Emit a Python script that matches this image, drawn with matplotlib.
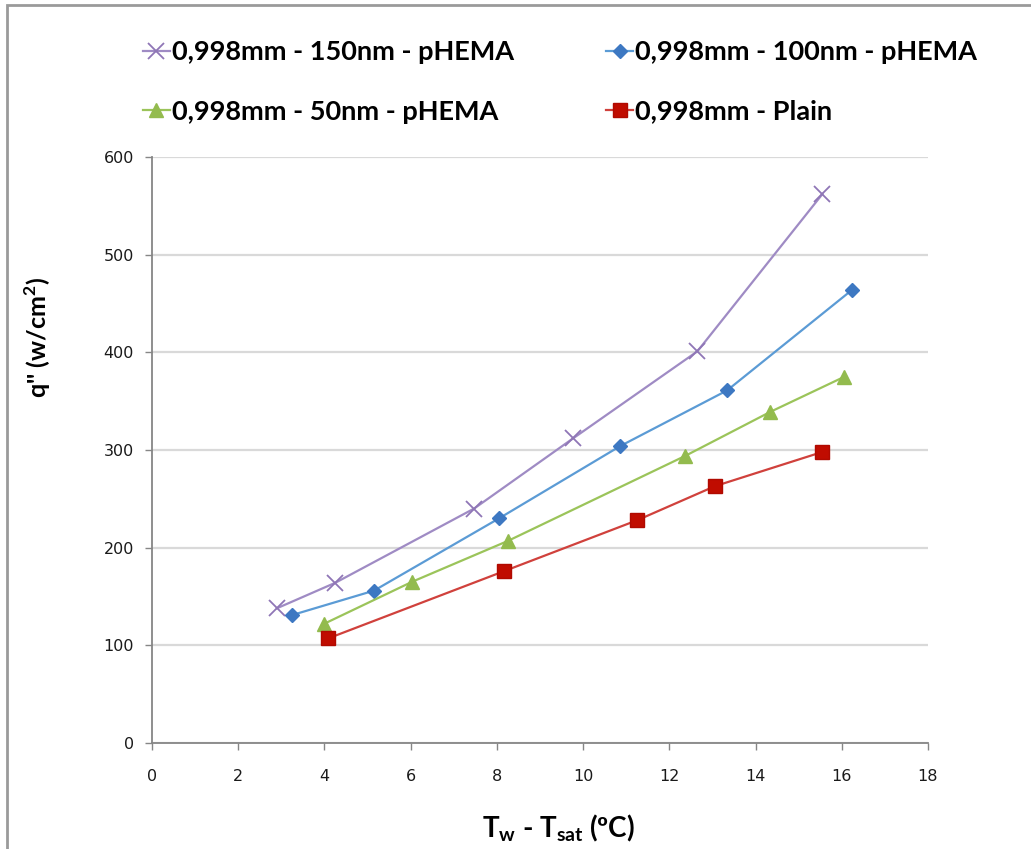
import matplotlib
matplotlib.use("Agg")
import matplotlib.pyplot as plt
from matplotlib.patches import Rectangle

# Wall superheat (degC) and heat flux (W/cm^2) for each surface
x_150 = [2.90, 4.25, 7.47, 9.77, 12.65, 15.55]
q_150 = [138, 164, 240, 312, 401, 562]

x_100 = [3.25, 5.15, 8.05, 10.86, 13.34, 16.24]
q_100 = [131, 156, 230, 304, 361, 464]

x_50 = [3.99, 6.03, 8.26, 12.37, 14.34, 16.06]
q_50 = [122, 165, 207, 294, 339, 375]

x_plain = [4.08, 8.17, 11.25, 13.06, 15.55]
q_plain = [107, 176, 228, 263, 298]

labels = ["0,998mm - 150nm - pHEMA", "0,998mm - 100nm - pHEMA",
          "0,998mm - 50nm - pHEMA", "0,998mm - Plain"]

x_ticks = list(range(0, 19, 2))
y_ticks = list(range(0, 601, 100))

plt.rcParams["mathtext.fontset"] = "custom"
plt.rcParams["mathtext.rm"] = "Lato:bold"
plt.rcParams["mathtext.bf"] = "Lato:bold"

W, H = 1031, 849
fig = plt.figure(figsize=(W / 100, H / 100), dpi=100)
fig.patch.set_facecolor("white")

# chart frame
fig.add_artist(Rectangle((7 / W, -0.05), 1.2, 1 - 5 / H + 0.05,
                         transform=fig.transFigure, fill=False,
                         edgecolor="#9a9a9a", linewidth=2.0))

ax = fig.add_axes([152 / W, 1 - 743 / H, (928 - 152) / W, (743 - 157) / H])
ax.set_xlim(0, 18)
ax.set_ylim(0, 600)
ax.set_xticks(x_ticks)
ax.set_yticks(y_ticks)
ax.grid(axis="y", color="#d9d9d9", linewidth=1.6)
ax.set_axisbelow(True)
for s in ("top", "right"):
    ax.spines[s].set_visible(False)
for s in ("left", "bottom"):
    ax.spines[s].set_color("#868686")
    ax.spines[s].set_linewidth(1.3)
ax.tick_params(axis="both", colors="#868686", length=5, width=1.0,
               labelcolor="#1a1a1a", labelsize=11.5)
ax.tick_params(axis="x", pad=14)
ax.tick_params(axis="y", pad=8)
for lbl in ax.get_xticklabels() + ax.get_yticklabels():
    lbl.set_fontfamily("DejaVu Sans")

h150, = ax.plot(x_150, q_150, color="#9f8bc4", linewidth=1.6, marker="x",
                markersize=11, markeredgewidth=1.3, markeredgecolor="#8f76b6")
h100, = ax.plot(x_100, q_100, color="#5b9bd5", linewidth=1.6, marker="D",
                markersize=7.5, markerfacecolor="#3d78c2", markeredgecolor="#3d78c2")
h50, = ax.plot(x_50, q_50, color="#9bc45a", linewidth=1.6, marker="^",
               markersize=10, markerfacecolor="#93bb4e", markeredgecolor="#93bb4e")
hpl, = ax.plot(x_plain, q_plain, color="#d0413c", linewidth=1.6, marker="s",
               markersize=10.5, markerfacecolor="#c00c00", markeredgecolor="#b00a00")

ax.set_ylabel("q'' (w/cm$^\\mathrm{2}$)", fontsize=18, fontfamily="Lato",
              fontweight="bold")
ax.yaxis.set_label_coords(-0.147, 0.693)
ax.set_xlabel("T$_\\mathrm{w}$ - T$_\\mathrm{sat}$ (ºC)", fontsize=20,
              fontfamily="Lato", fontweight="bold")
ax.xaxis.set_label_coords(0.524, -0.145)
ax.xaxis.label.set_verticalalignment("center")
ax.yaxis.label.set_verticalalignment("center")

leg = fig.legend([h150, h50, h100, hpl],
                 [labels[0], labels[2], labels[1], labels[3]],
                 ncol=2, loc="center", bbox_to_anchor=(560 / W, 1 - 82 / H),
                 frameon=False, prop={"family": "Lato", "weight": "bold", "size": 19.5},
                 handlelength=1.0, handletextpad=0.08, columnspacing=3.4,
                 labelspacing=1.3)

fig.savefig("out.png", dpi=100, facecolor="white")
